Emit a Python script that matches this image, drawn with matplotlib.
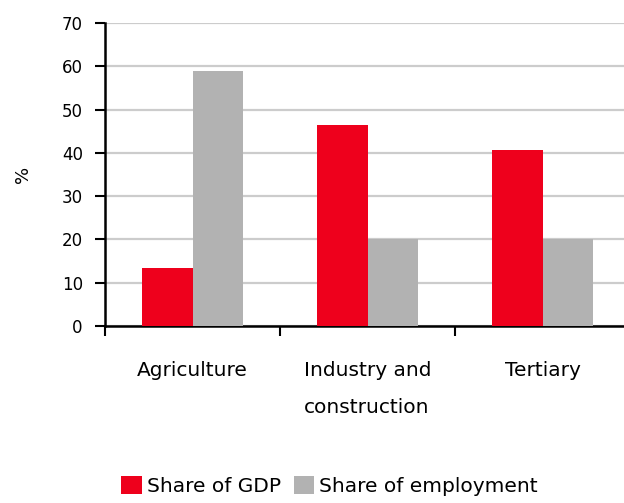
import numpy as np
import matplotlib
matplotlib.use("Agg")
import matplotlib.pyplot as plt

# data
sectors = ["Agriculture", "Industry and\nconstruction", "Tertiary"]
gdp_share = [13.4, 46.4, 40.6]
employment_share = [59.0, 20.2, 20.2]
series_names = ["Share of GDP", "Share of employment"]
y_ticks = [0, 10, 20, 30, 40, 50, 60, 70]

red = "#ee001c"
grey = "#b2b2b2"

plt.rcParams["font.family"] = ["DejaVu Sans"]

fig = plt.figure(figsize=(6.24, 5.03), dpi=100)
ax = fig.add_axes([105 / 624, 177 / 503, 525 / 624, 303 / 503])

x = np.arange(len(sectors))
w = 0.289
ax.bar(x - w / 2, gdp_share, w, color=red, label=series_names[0], zorder=3)
ax.bar(x + w / 2, employment_share, w, color=grey, label=series_names[1], zorder=3)

ax.set_xlim(-0.5, len(sectors) - 0.5)
ax.set_ylim(0, 70)
ax.set_yticks(y_ticks)
ax.yaxis.grid(True, color="#cccccc", linewidth=1.6, zorder=0)
ax.set_axisbelow(True)

for side in ["top", "right"]:
    ax.spines[side].set_visible(False)
for side in ["left", "bottom"]:
    ax.spines[side].set_linewidth(1.8)
    ax.spines[side].set_color("black")

ax.tick_params(axis="y", direction="out", length=7, width=1.5, pad=9, labelsize=12)

# boundary ticks on x, labels at category centres
ax.set_xticks(np.arange(len(sectors) + 1) - 0.5)
ax.set_xticklabels([])
ax.tick_params(axis="x", which="major", direction="out", length=7, width=1.5)
ax.set_xticks(x, minor=True)
ax.set_xticklabels(sectors, minor=True)
ax.tick_params(axis="x", which="minor", length=0, pad=25, labelsize=14.5)
for lbl in ax.get_xticklabels(minor=True):
    lbl.set_multialignment("left")
    lbl.set_linespacing(2.2)

ax.set_ylabel("%", fontsize=13, labelpad=21)

fig.legend(loc="center", bbox_to_anchor=(0.528, 0.034), ncol=2, frameon=False,
           fontsize=14.5, handlelength=1.0, handleheight=1.0,
           handletextpad=0.25, columnspacing=0.65, borderpad=0)

fig.savefig("out.png", dpi=100)
